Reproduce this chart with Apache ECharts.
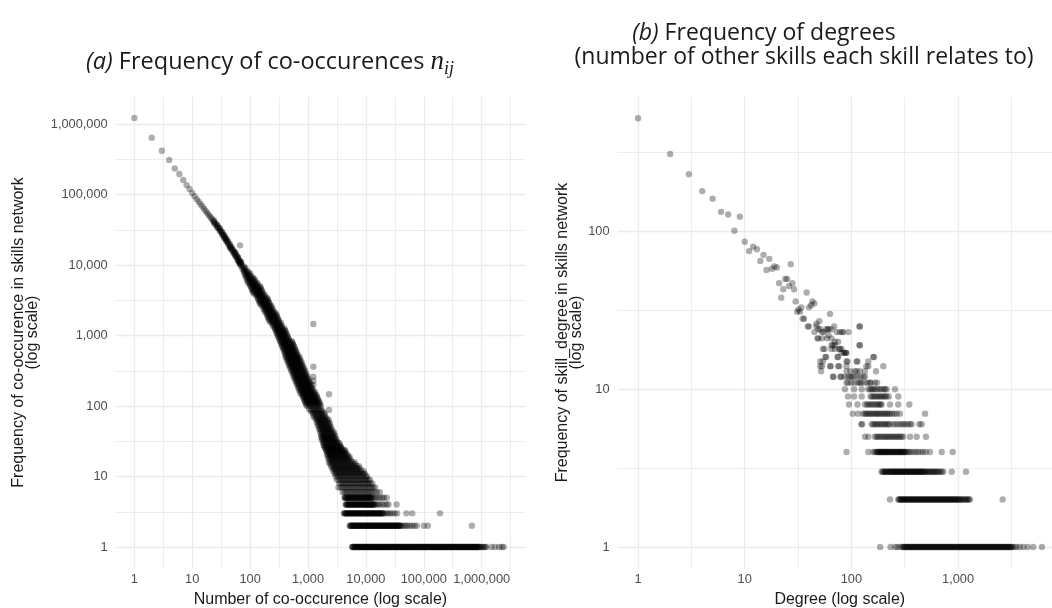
<!DOCTYPE html>
<html>
<head>
<meta charset="utf-8">
<title>Skills network frequencies</title>
<script src="https://cdn.jsdelivr.net/npm/echarts@6/dist/echarts.min.js"></script>
<style>
html,body{margin:0;padding:0;background:#ffffff;}
#chart{width:1052px;height:608px;}
</style>
</head>
<body>
<div id="chart"></div>
<script>
// ===== Panel (a): frequency of co-occurrence counts n_ij =====
const coocHeadN = [1,2,3,4,5,6,7,8,9,10,11,12,13,14,15,16,17,18,19,20,21,22,23,24,25,26,27,28,29,30,31,32,33,34,35,36,37,38,39,40,42,44,45,46,48,50,53,55,56,59,60,62,64,65,66,68,70,71];
const coocHeadF = [1220000,640000,417000,309000,234000,195000,161000,136000,120000,105000,94400,85900,78800,72800,67500,63000,58900,55400,52200,49400,46900,44600,42500,40600,38800,37200,35700,34300,33000,31800,30500,29300,28100,27000,26000,25000,24100,23300,22500,21700,20400,19100,17600,18000,17100,16100,14900,15100,13900,12900,13300,12100,10900,11400,10700,10700,11000,10100];
// slight scatter either side of the curve where the dots merge into a line
const coocSideN = [24,24,27,27,30,30,33,33,36,36,39,39,42,42,45,45,48,48,51,51,54,54,57,57,61,61,63,63,67,67,69,69];
const coocSideF = [42500,38800,37400,34100,33300,30400,29400,26800,26200,23900,23600,21500,21400,19500,19500,17800,17900,16300,16400,15000,15300,13900,14200,13000,13000,11800,12500,11400,11400,10400,11000,10000];
// dense diagonal band: [frequency, [counts n ...]]
const coocBandRows = [
 [9550,[71,78]],[9120,[76,83]],[8710,[74,81]],[8318,[79,87]],[7943,[78,85,93]],[7586,[83,91,100]],[7244,[81,89,98]],
 [6918,[87,95,105]],[6607,[85,93,102,112]],[6310,[91,100,110,120]],[6026,[89,98,107,118]],[5754,[95,105,115,126]],
 [5495,[93,102,112,123,135]],[5248,[100,110,120,132]],[5012,[102,112,123,135,148]],[4786,[105,115,126,138,151]],
 [4571,[107,118,129,141,155]],[4365,[110,120,132,145,158]],[4169,[112,123,135,148,162]],[3981,[115,126,138,151,166]],
 [3802,[123,135,148,162,178]],[3631,[132,145,158,174]],[3467,[135,148,162,178,195]],[3311,[138,151,166,182,200]],
 [3162,[141,155,170,186,204]],[3020,[145,158,174,191,209]],[2884,[148,162,178,195,214]],[2754,[151,166,182,200,219]],
 [2630,[162,178,195,214,234]],[2512,[174,191,209,229]],[2399,[170,186,204,224,245]],[2291,[182,200,219,240]],
 [2188,[178,195,214,234,257]],[2089,[191,209,229,251,275]],[1995,[195,214,234,257,282]],[1905,[200,219,240,263,288]],
 [1820,[204,224,245,269,295]],[1738,[209,229,251,275,302]],[1660,[214,234,257,282,309]],[1585,[219,240,263,288,316]],
 [1514,[234,257,282,309,339]],[1445,[251,275,302,331]],[1380,[245,269,295,324,355]],[1318,[263,288,316,347]],
 [1259,[269,295,324,355,389]],[1202,[275,302,331,363,398]],[1148,[282,309,339,372,407]],[1096,[288,316,347,380,417]],
 [1047,[295,324,355,389,427]],[1000,[302,331,363,398,437]],[955,[309,339,372,407,447]],[912,[316,347,380,417,457]],
 [871,[324,355,389,427,468]],[832,[331,363,398,437,479,525]],[794,[339,372,407,447,490,537]],[759,[347,380,417,457,501,550]],
 [724,[355,389,427,468,513,562]],[692,[363,398,437,479,525,575]],[661,[372,407,447,490,537,589]],[631,[380,417,457,501,550,603]],
 [603,[389,427,468,513,562,617]],[575,[398,437,479,525,575,631]],[550,[407,447,490,537,589,646]],[525,[417,457,501,550,603,661]],
 [501,[407,447,490,537,589,646,708]],[479,[437,479,525,575,631,692]],[457,[427,468,513,562,617,676,741]],[437,[457,501,550,603,661,724]],
 [417,[447,490,537,589,646,708,776]],[398,[479,525,575,631,692,759]],[380,[468,513,562,617,676,741,813]],[363,[501,550,603,661,724,794]],
 [347,[490,537,589,646,708,776,851]],[331,[525,575,631,692,759,832]],[316,[513,562,617,676,741,813,891]],[302,[550,603,661,724,794,871]],
 [288,[537,589,646,708,776,851,933]],[275,[575,631,692,759,832,912]],[263,[562,617,676,741,813,891,977]],[251,[603,661,724,794,871,955]],
 [240,[589,646,708,776,851,933,1023]],[229,[631,692,759,832,912,1000]],[219,[617,676,741,813,891,977,1072]],[209,[661,724,794,871,955,1047]],
 [200,[646,708,776,851,933,1023,1122]],[191,[692,759,832,912,1000,1096]],[182,[676,741,813,891,977,1072,1175]],[174,[724,794,871,955,1047,1148]],
 [166,[708,776,851,933,1023,1122,1230]],[158,[759,832,912,1000,1096,1202,1318]],[151,[741,813,891,977,1072,1175,1288]],
 [145,[794,871,955,1047,1148,1259,1380]],[138,[813,891,977,1072,1175,1288,1413]],[132,[832,912,1000,1096,1202,1318,1445]],
 [126,[851,933,1023,1122,1230,1349,1479]],[120,[871,955,1047,1148,1259,1380,1514]],[115,[891,977,1072,1175,1288,1413,1549]],
 [110,[912,1000,1096,1202,1318,1445,1585]],[105,[933,1023,1122,1230,1349,1479,1622]],[100,[955,1047,1148,1259,1380,1514,1660]]
];
// widening fan below frequency 100
const coocFanRows = [
 [90,[1047,1148,1259,1380,1514,1660]],[85,[1122,1230,1349,1479,1622,1778]],[80,[1202,1318,1445,1585,1738,1905]],
 [75,[1230,1349,1479,1622,1778,1950]],[70,[1259,1380,1514,1660,1820,1995]],[66,[1349,1479,1622,1778,1950,2138]],
 [63,[1445,1585,1738,1905,2089,2291]],[59,[1413,1549,1698,1862,2042,2239]],[56,[1514,1660,1820,1995,2188,2399]],
 [53,[1479,1622,1778,1950,2138,2344]],[50,[1585,1738,1905,2089,2291,2512]],[47,[1549,1698,1862,2042,2239,2455]],
 [45,[1660,1820,1995,2188,2399,2630]],[42,[1622,1778,1950,2138,2344,2570,2818]],[40,[1738,1905,2089,2291,2512,2754]],
 [38,[1698,1862,2042,2239,2455,2692,2951]],[36,[1698,1820,1995,2188,2399,2630,2884]],[34,[1778,1950,2138,2344,2570,2818,3090]],
 [33,[1738,1905,2089,2291,2512,2754,3020]],[31,[1862,2042,2239,2455,2692,2951,3236]],[30,[1820,1995,2188,2399,2630,2884,3162,3467]],
 [28,[1862,2042,2239,2455,2692,2951,3236,3548]],[27,[1905,2089,2291,2512,2754,3020,3311,3631]],[26,[1950,2138,2344,2570,2818,3090,3388,3715]],
 [25,[1995,2188,2399,2630,2884,3162,3467,3802]],[24,[2042,2239,2455,2692,2951,3236,3548,3890,4266]],
 [23,[2089,2291,2512,2754,3020,3311,3631,3981,4365]],[22,[2138,2344,2570,2818,3090,3388,3715,4074,4467]],
 [21,[2188,2399,2630,2884,3162,3467,3802,4169,4571]],[20,[2138,2344,2570,2818,3090,3388,3715,4074,4467,4898]],
 [19,[2291,2512,2754,3020,3311,3631,3981,4365,4786,5248]],[18,[2239,2455,2692,2951,3236,3548,3890,4266,4677,5129]],
 [17,[2399,2630,2884,3162,3467,3802,4169,4571,5012,5495]],
 [16,[2291,2512,2754,3020,3311,3631,3981,4365,4786,5248,5754,6310]],
 [15,[2399,2630,2884,3162,3467,3802,4169,4571,5012,5495,6026,6607]],
 [14,[2512,2754,3020,3311,3631,3981,4365,4786,5248,5754,6310,6918,7586]],
 [13,[2630,2884,3162,3467,3802,4169,4571,5012,5495,6026,6607,7244,7943,2818,3388,4074,4898,5888,7079]],
 [12,[2754,3020,3311,3631,3981,4365,4786,5248,5754,6310,6918,7586,8318,9120]],
 [11,[2884,3162,3467,3802,4169,4571,5012,5495,6026,6607,7244,7943,8710,9550,3020,3631,4365,5248,6310,7586,9120]],
 [10,[3020,3311,3631,3981,4365,4786,5248,5754,6310,6918,7586,8318,9120,10000,10470]]
];
// horizontal strips at the smallest frequencies
const coocLowRows = [
 [9,[3162,3388,3631,3890,4169,4467,4786,5129,5495,5888,6310,6761,7244,7762,8318,8913,9550,10230,10960,11750]],
 [8,[3467,3715,3981,4266,4571,4898,5248,5623,6026,6457,6918,7413,7943,8511,9120,9772,10470,11220,12020,12880]],
 [7,[3350,3631,3890,4169,4467,4786,5129,5495,5888,6310,6761,7244,7762,8318,8913,9550,10230,10960,11750,12590,13490,14450]],
 [6,[3981,4266,4571,4898,5248,5623,6026,6457,6918,7413,7943,8511,9120,9772,10470,11220,12020,12880,14130,15490,17380]],
 [5,[4266,4467,4677,4898,5129,5370,5623,5888,6166,6457,6761,7079,7413,7762,8128,8511,8913,9333,9772,10230,10720,11220,11750,12300,12880,13800,14790,15850,17380,19050,20420,22910]],
 [5,[4365,4571,4786,5012,5248,5495,5754,6026,6310,6607,6918,7244,7586,7943,8318,8710,9120,9550,10000,10470,10960,11480,12020,12590]],
 [4,[4467,4677,4898,5129,5370,5623,5888,6166,6457,6761,7079,7413,7762,8128,8511,8913,9333,9772,10230,10720,11220,11750,12300,12880,13490,14130,15140,16220,17380,19050,20890,22910,24550,33880]],
 [4,[4571,4786,5012,5248,5495,5754,6026,6310,6607,6918,7244,7586,7943,8318,8710,9120,9550,10000,10470,10960,11480,12020,12590,13180,13800]],
 [3,[4169,4365,4571,4786,5012,5248,5495,5754,6026,6310,6607,6918,7244,7586,7943,8318,8710,9120,9550,10000,10470,10960,11480,12020,12590,13180,13800,14450,15140,15850,16600,17380,18200,19050,19950,21380,22910,24550,26300,28840,31620,34670,50120,63100,190500]],
 [3,[4266,4467,4677,4898,5129,5370,5623,5888,6166,6457,6761,7079,7413,7762,8128,8511,8913,9333,9772,10230,10720,11220,11750,12300,12880,13490,14130,14790,15490,16220,16980,17780,18620,19500]],
 [2,[5248,5495,5754,6026,6310,6607,6918,7244,7586,7943,8318,8710,9120,9550,10000,10470,10960,11480,12020,12590,13180,13800,14450,15140,15850,16600,17380,18200,19050,19950,20890,21880,22910,23990,25120,26300,27540,28840,30200,31620,33110,34670,36310,38020,39810,42660,45710,48980,52480,57540,63100,69180,75860,100000,117500,676100]],
 [2,[5370,5623,5888,6166,6457,6761,7079,7413,7762,8128,8511,8913,9333,9772,10230,10720,11220,11750,12300,12880,13490,14130,14790,15490,16220,16980,17780,18620,19500,20420,21380,22390,23440,24550,25700,26920,28180,29510,30900,32360,33880,35480,37150,38900]],
 [1,[5754,6026,6310,6607,6918,7244,7586,7943,8318,8710,9120,9550,10000,10470,10960,11480,12020,12590,13180,13800,14450,15140,15850,16600,17380,18200,19050,19950,20890,21880,22910,23990,25120,26300,27540,28840,30200,31620,33110,34670,36310,38020,39810,41690,43650,45710,47860,50120,52480,54950,57540,60260,63100,66070,69180,72440,75860,79430,83180,87100,91200,95500,100000,104700,109600,114800,120200,125900,131800,138000,144500,151400,158500,166000,173800,182000,190500,199500,208900,218800,229100,239900,251200,263000,275400,288400,302000,316200,331100,346700,363100,380200,398100,416900,436500,457100,478600,501200,524800,549500,575400,602600,631000,660700,691800,724400,758600,794300,831800,871000,912000,955000,1000000,1047000,1096000,1148000,1202000,1479000,1698000,1995000,2239000,2399000]],
 [1,[5888,6166,6457,6761,7079,7413,7762,8128,8511,8913,9333,9772,10230,10720,11220,11750,12300,12880,13490,14130,14790,15490,16220,16980,17780,18620,19500,20420,21380,22390,23440,24550,25700,26920,28180,29510,30900,32360,33880,35480,37150,38900,40740,42660,44670,46770,48980,51290,53700,56230,58880,61660,64570,67610,70790,74130,77620,81280,85110,89130,93330,97720,102300,107200,112200,117500,123000,128800,134900,141300,147900,154900,162200,169800,177800,186200,195000,204200,213800,223900,234400,245500,257000,269200,281800,295100,309000,323600,338800,354800,371500,389000,407400,426600,446700,467700,489800,512900,537000,562300,588800,616600,645700,676100,707900,741300,776200,812800,851100,891300]]
];
// isolated points off the band: [n, frequency]
const coocOutliers = [[67,19000],[138,3830],[307,1200],[638,479],[1236,1456],[1236,361],[1236,261],[1236,226],[1236,199],[2305,147],[2305,88]];

// ===== Panel (b): frequency of degrees =====
const degHead = [[1,521],[2,309],[3,230],[4,180],[5,161],[6,133],[7,128],[8,101],[9,124],[10,86],[11,75],[12,80],[13,77],[14,65],[15,71],[16,57],[17,67],[18,58],[19,60],[20,59],[21,47],[22,38],[23,43],[24,50],[25,50],[26,45],[27,62],[28,47],[29,43],[30,36],[31,31],[32,32],[33,31],[34,33],[35,28],[36,28],[38,41],[40,33],[42,34],[43,36],[45,35],[39,25],[40,25],[45,23],[47,26],[50,27],[49,24],[51,24],[55,23],[48,21],[49,21],[53,21],[63,30],[47,25],[58,24],[60,24],[61,24],[65,24],[53,23],[69,25],[73,23],[78,23],[84,23],[82,23],[94,23],[119,25],[120,25],[61,22],[65,21],[59,21],[70,20],[75,20],[67,19],[70,19],[65,19],[54,18],[56,18],[65,18],[70,18],[77,18],[78,18],[81,18],[81,17],[85,17],[87,17],[89,17],[90,17],[119,19],[120,19]];
const degRows = [
 [16,[57,58,74,75,160,163]],
 [15,[51,54,90,92,112,114,144]],
 [14,[51,53,63,64,75,77,90,138,144,199]],
 [13,[52,90,98,108,112,120,134,170]],
 [12,[67,68,79,80,87,93,98,100,106,113,121,129,134]],
 [11,[90,93,100,107,115,120,123,132,141,150,151,166,174]],
 [10,[87,106,125,144,150,155,160,166,174,182,190,200,207,214,256]],
 [9,[93,106,125,151,156,162,168,174,180,187,193,200,207,214,224,275]],
 [8,[95,114,134,140,145,151,157,163,170,176,182,188,192,230,275,349]],
 [7,[103,116,129,134,138,143,148,153,158,164,170,175,180,187,194,200,208,215,222,230,240,253,266,285,490]],
 [6,[124,126,155,160,166,172,178,185,192,200,207,214,222,229,247,260,275,290,305,318,335,354,367,433,456]],
 [5,[134,144,166,172,178,185,192,200,207,214,222,230,238,247,256,265,275,285,295,306,354,409,500]],
 [4,[90,144,160,166,172,178,184,190,196,203,210,217,224,232,240,248,256,265,274,283,293,303,313,324,335,347,360,380,400,420,445,470,500,545,702,891,175,181,187,193,200,206,213,220,228,236,244,252,260,270,279,288,298,308,318]],
 [3,[192,200,208,216,224,232,240,248,256,265,274,283,292,302,312,322,333,344,356,368,380,393,406,420,434,449,464,480,500,525,550,580,610,640,680,728,871,1186,196,204,212,220,228,236,244,252,260,269,278,287,297,307,317,327,338,350,362,374,386,400,413,427,441,456,472,490,512,537,565,595,625,660,704]],
 [2,[230,275,285,295,305,316,327,338,350,362,375,388,401,415,430,445,460,476,493,510,528,546,565,585,605,626,648,671,694,718,743,769,796,824,853,883,914,946,980,1015,1060,1110,1170,1230,1292,2618,280,290,300,310,321,332,344,356,368,381,394,408,422,437,452,468,484,501,519,537,555,575,595,615,637,659,682,706,730,756,782,810,838,868,898,930,963,997,1037,1085,1140,1200,1260]],
 [1,[186,233,257,270,285,300,306,317,328,340,352,364,377,390,404,418,433,448,464,480,497,515,533,552,571,591,612,634,656,679,703,728,754,780,808,836,866,896,928,961,995,1030,1066,1104,1143,1183,1225,1268,1313,1359,1407,1457,1508,1561,1616,1673,1732,1793,1857,1922,1990,2060,2133,2208,2286,2367,2450,2537,2626,2719,2815,2914,3017,3124,3234,3400,3550,3800,4100,4500,5070,6110,311,322,334,346,358,370,383,397,411,425,440,456,472,488,506,524,542,561,581,601,623,645,667,691,715,741,767,794,822,851,881,912,944,978,1012,1048,1085,1123,1163,1204,1246,1290,1336,1383,1432,1482,1534,1588,1644,1702,1762,1825,1889,1956,2025,2096,2170,2247,2326,2408,2493,2581,2672,2767,2864,2965,3070,3180]]
];

// ===== gridline values (major decades, minor half-decades) =====
const decadesAX = [1,10,100,1000,10000,100000,1000000];
const halvesAX = [3.1623,31.623,316.23,3162.3,31623,316228,3162278];
const decadesAY = [1,10,100,1000,10000,100000,1000000];
const halvesAY = [3.1623,31.623,316.23,3162.3,31623,316228];
const decadesBX = [1,10,100,1000];
const halvesBX = [3.1623,31.623,316.23,3162.3];
const decadesBY = [1,10,100];
const halvesBY = [3.1623,31.623,316.23];

function rowsToPoints(rows){
  const out = [];
  rows.forEach(function(r){ r[1].forEach(function(n){ out.push([n, r[0]]); }); });
  return out;
}
function zip(a, b){ return a.map(function(v,i){ return [v, b[i]]; }); }
const coocPoints = zip(coocHeadN, coocHeadF).concat(zip(coocSideN, coocSideF),
  rowsToPoints(coocBandRows), rowsToPoints(coocFanRows), rowsToPoints(coocLowRows), coocOutliers);
const degPoints = degHead.concat(rowsToPoints(degRows));

function fmtDecade(v){
  const l = Math.log10(v);
  if (Math.abs(l - Math.round(l)) > 1e-6) return '';
  return String(Math.round(v)).replace(/\B(?=(\d{3})+(?!\d))/g, ',');
}
const SANS = 'Liberation Sans';
function logAxis(gi, min, max, name, gap, isY){
  return {
    type:'log', logBase:10, gridIndex:gi, min:min, max:max,
    name:name, nameLocation:'middle', nameGap:gap,
    nameTextStyle:{color:'#1a1a1a', fontSize:16, fontFamily:SANS, lineHeight:14},
    axisLine:{show:false}, axisTick:{show:false}, splitLine:{show:false},
    minorTick:{show:false}, minorSplitLine:{show:false},
    axisLabel:{color:'#4d4d4d', fontSize:12.8, fontFamily:SANS, margin: isY ? 8 : 5, lineHeight:13, formatter:fmtDecade, showMinLabel:true, showMaxLabel:true}
  };
}
function gridSeries(i, mx, hx, my, hy){
  const major = {color:'#ebebeb', width:1.3, type:'solid'};
  const minor = {color:'#ebebeb', width:0.9, type:'solid'};
  const d = [].concat(
    mx.map(function(v){ return {xAxis:v, lineStyle:major}; }),
    hx.map(function(v){ return {xAxis:v, lineStyle:minor}; }),
    my.map(function(v){ return {yAxis:v, lineStyle:major}; }),
    hy.map(function(v){ return {yAxis:v, lineStyle:minor}; })
  );
  return {type:'scatter', xAxisIndex:i, yAxisIndex:i, data:[], silent:true, z:0,
    markLine:{silent:true, z:1, symbol:['none','none'], animation:false, label:{show:false},
      emphasis:{disabled:true}, lineStyle:major, data:d}};
}
function pointSeries(i, data){
  return {type:'scatter', xAxisIndex:i, yAxisIndex:i, data:data, symbol:'circle', symbolSize:6.4,
    itemStyle:{color:'rgba(0,0,0,0.4)'}, silent:true, z:3, progressive:0, large:false, animation:false};
}

const TF = 'Open Sans';
const option = {
  backgroundColor:'#ffffff',
  animation:false,
  grid:[
    {left:115.7, top:96.6, width:409.4, height:471.8, outerBoundsMode:'none', containLabel:false},
    {left:617.5, top:96.6, width:444.5, height:471.8, outerBoundsMode:'none', containLabel:false}
  ],
  xAxis:[
    logAxis(0, 0.477, 5620000, 'Number of co-occurence (log scale)', 23.5, false),
    logAxis(1, 0.642, 9418, 'Degree (log scale)', 23.5, false)
  ],
  yAxis:[
    logAxis(0, 0.497, 2448000, 'Frequency of co-occurence in skills network\n(log scale)', 76, true),
    logAxis(1, 0.732, 714.5, 'Frequency of skill_degree in skills network\n(log scale)', 27, true)
  ],
  series:[
    gridSeries(0, decadesAX, halvesAX, decadesAY, halvesAY),
    gridSeries(1, decadesBX, halvesBX, decadesBY, halvesBY),
    pointSeries(0, coocPoints),
    pointSeries(1, degPoints)
  ],
  graphic:[
    {type:'text', x:270, y:62, silent:true, style:{
      text:'{i|(a)} Frequency of co-occurences {n|n}{s|ij}',
      align:'center', verticalAlign:'middle', fill:'#1a1a1a',
      fontFamily:TF, fontSize:23.5, lineHeight:32,
      rich:{
        i:{fontFamily:TF, fontSize:23.5, fontStyle:'italic', fill:'#1a1a1a', lineHeight:32, verticalAlign:'middle'},
        n:{fontFamily:'Liberation Serif', fontSize:27, fontStyle:'italic', fill:'#1a1a1a', lineHeight:32, verticalAlign:'middle'},
        s:{fontFamily:'Liberation Serif', fontSize:18, fontStyle:'italic', fill:'#1a1a1a', lineHeight:32, verticalAlign:'bottom'}
      }}},
    {type:'text', x:764, y:33, silent:true, style:{
      text:'{i|(b)} Frequency of degrees',
      align:'center', verticalAlign:'middle', fill:'#1a1a1a', fontFamily:TF, fontSize:23,
      rich:{ i:{fontFamily:TF, fontSize:23, fontStyle:'italic', fill:'#1a1a1a'} }}},
    {type:'text', x:804, y:57, silent:true, style:{
      text:'(number of other skills each skill relates to)',
      align:'center', verticalAlign:'middle', fill:'#1a1a1a', fontFamily:TF, fontSize:23}}
  ]
};
const chart = echarts.init(document.getElementById('chart'), null, {renderer:'canvas', width:1052, height:608});
chart.setOption(option);
</script>
</body>
</html>
